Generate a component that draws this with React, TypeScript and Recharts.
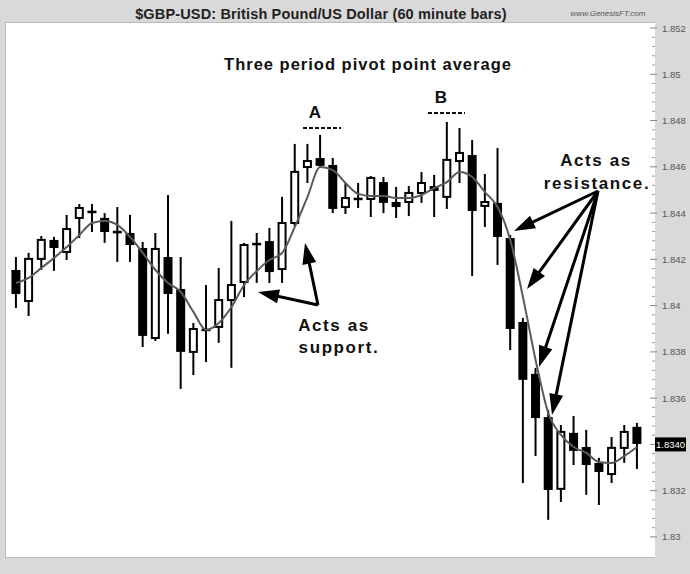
import React from 'react';
import { ComposedChart, Bar, Line, XAxis, YAxis } from 'recharts';

const categories = Array.from({ length: 50 }, (_, i) => `${i + 1}`);

const opens = [1.84154, 1.84020, 1.84202, 1.84284, 1.84232, 1.84379, 1.84407, 1.84379, 1.84320, 1.84314,
  1.84249, 1.83860, 1.84210, 1.84072, 1.83800, 1.83897, 1.83908, 1.84024, 1.84102, 1.84268,
  1.84279, 1.84158, 1.84357, 1.84599, 1.84638, 1.84608, 1.84426, 1.84463, 1.84461, 1.84534,
  1.84448, 1.84448, 1.84487, 1.84517, 1.84470, 1.84625, 1.84651, 1.84431, 1.84444, 1.84292,
  1.83929, 1.83705, 1.83518, 1.83208, 1.83450, 1.83389, 1.83320, 1.83272, 1.83385, 1.83476];

const highs = [1.84210, 1.84228, 1.84301, 1.84297, 1.84392, 1.84439, 1.84439, 1.84400, 1.84426, 1.84392,
  1.84275, 1.84314, 1.84478, 1.84210, 1.83925, 1.84089, 1.84163, 1.84366, 1.84271, 1.84314,
  1.84336, 1.84470, 1.84699, 1.84699, 1.84738, 1.84638, 1.84530, 1.84530, 1.84560, 1.84556,
  1.84513, 1.84517, 1.84578, 1.84565, 1.84794, 1.84768, 1.84716, 1.84569, 1.84681, 1.84305,
  1.83947, 1.83731, 1.83549, 1.83484, 1.83523, 1.83463, 1.83342, 1.83432, 1.83484, 1.83493];

const lows = [1.83990, 1.83955, 1.84154, 1.84150, 1.84197, 1.84292, 1.84318, 1.84271, 1.84189, 1.84189,
  1.83821, 1.83847, 1.83878, 1.83640, 1.83700, 1.83756, 1.83839, 1.83731, 1.84037, 1.84098,
  1.84098, 1.84098, 1.84344, 1.84530, 1.84595, 1.84400, 1.84396, 1.84422, 1.84383, 1.84400,
  1.84379, 1.84387, 1.84444, 1.84383, 1.84418, 1.84530, 1.84128, 1.84340, 1.84176, 1.83808,
  1.83233, 1.83350, 1.83074, 1.83151, 1.83311, 1.83182, 1.83138, 1.83233, 1.83320, 1.83294];

const closes = [1.84050, 1.84202, 1.84284, 1.84249, 1.84331, 1.84422, 1.84403, 1.84318, 1.84316, 1.84262,
  1.83869, 1.84245, 1.84050, 1.83800, 1.83899, 1.83893, 1.84024, 1.84089, 1.84262, 1.84264,
  1.84145, 1.84357, 1.84578, 1.84625, 1.84604, 1.84418, 1.84465, 1.84459, 1.84552, 1.84444,
  1.84426, 1.84487, 1.84530, 1.84496, 1.84630, 1.84660, 1.84409, 1.84448, 1.84297, 1.83899,
  1.83679, 1.83514, 1.83203, 1.83454, 1.83372, 1.83311, 1.83281, 1.83385, 1.83454, 1.83402];

const pivotAvg = [1.84098, 1.84120, 1.84163, 1.84206, 1.84253, 1.84305, 1.84357, 1.84366, 1.84349, 1.84297,
  1.84228, 1.84154, 1.84098, 1.84059, 1.83973, 1.83895, 1.83925, 1.83994, 1.84089, 1.84150,
  1.84197, 1.84228, 1.84340, 1.84470, 1.84599, 1.84586, 1.84530, 1.84483, 1.84474, 1.84474,
  1.84465, 1.84465, 1.84478, 1.84508, 1.84534, 1.84578, 1.84556, 1.84491, 1.84426, 1.84284,
  1.84037, 1.83765, 1.83536, 1.83441, 1.83389, 1.83363, 1.83324, 1.83320, 1.83350, 1.83389];

const majorTicks = [1.83, 1.832, 1.834, 1.836, 1.838, 1.84, 1.842, 1.844, 1.846, 1.848, 1.85, 1.852];
const majorLabels = ['1.83', '1.832', '1.834', '1.836', '1.838', '1.84', '1.842', '1.844', '1.846', '1.848', '1.85', '1.852'];
const lastPriceLabel = '1.8340';

const title = '$GBP-USD:  British Pound/US Dollar  (60 minute bars)';
const website = 'www.GenesisFT.com';

const data = categories.map((c, i) => ({
  name: c,
  range: [lows[i], highs[i]],
  open: opens[i],
  high: highs[i],
  low: lows[i],
  close: closes[i],
  avg: pivotAvg[i],
}));

const allTicks: number[] = [];
majorTicks.forEach((m, i) => {
  allTicks.push(m);
  if (i < majorTicks.length - 1) {
    for (let k = 1; k < 5; k++) allTicks.push(+(m + k * 0.0004).toFixed(5));
  }
});

const FONT = "'Liberation Sans', Arial, sans-serif";

const Candle = (props: any) => {
  const { x, y, width, height, payload } = props;
  if (!payload) return null;
  const { open, close, high, low } = payload;
  const top = Math.min(y, y + height);
  const h = Math.abs(height);
  const span = high - low;
  const py = (v: number) => (span === 0 ? top : top + ((high - v) / span) * h);
  const cx = x + width / 2;
  const bw = 9;
  const bull = close > open;
  let bTop = py(Math.max(open, close));
  let bBot = py(Math.min(open, close));
  if (bBot - bTop < 2.5) {
    const m = (bTop + bBot) / 2;
    bTop = m - 1.25;
    bBot = m + 1.25;
  }
  return (
    <g>
      <line x1={cx} x2={cx} y1={py(high)} y2={py(low)} stroke="#000" strokeWidth={2} />
      {bull ? (
        <rect x={cx - bw / 2 + 1} y={bTop} width={bw - 2} height={Math.max(bBot - bTop, 1)} fill="#fff" stroke="#000" strokeWidth={2} />
      ) : (
        <rect x={cx - bw / 2} y={bTop} width={bw} height={bBot - bTop} fill="#000" />
      )}
    </g>
  );
};

const RightTick = (props: any) => {
  const { x, y, payload } = props;
  const v = payload.value;
  const idx = majorTicks.findIndex((t) => Math.abs(t - v) < 1e-7);
  if (idx < 0) {
    return <line x1={x - 3} x2={x} y1={y} y2={y} stroke="#999" strokeWidth={1} />;
  }
  if (majorLabels[idx] === '1.834') {
    return (
      <g>
        <line x1={x - 5} x2={x + 2} y1={y} y2={y} stroke="#888" strokeWidth={1} />
        <rect x={x} y={y - 7} width={31} height={14} fill="#000" />
        <text x={x + 15.5} y={y + 3.5} textAnchor="middle" fill="#fff" fontSize={9.5} fontFamily={FONT}>{lastPriceLabel}</text>
      </g>
    );
  }
  return (
    <g>
      <line x1={x - 5} x2={x + 2} y1={y} y2={y} stroke="#888" strokeWidth={1} />
      <text x={x + 7} y={y + 3.5} textAnchor="start" fill="#555" fontSize={9.5} fontFamily={FONT}>{majorLabels[idx]}</text>
    </g>
  );
};

const Arrow = ({ x1, y1, x2, y2 }: { x1: number; y1: number; x2: number; y2: number }) => {
  const ang = Math.atan2(y2 - y1, x2 - x1);
  const L = 21;
  const W = 7;
  const c = Math.cos(ang);
  const s = Math.sin(ang);
  const bx = x2 - L * c;
  const by = y2 - L * s;
  const pts = `${x2},${y2} ${bx + W * s},${by - W * c} ${bx - W * s},${by + W * c}`;
  return (
    <g>
      <line x1={x1} y1={y1} x2={bx + 2 * c} y2={by + 2 * s} stroke="#000" strokeWidth={3} />
      <polygon points={pts} fill="#000" />
    </g>
  );
};

export default function App() {
  return (
    <div style={{ position: 'absolute', left: 0, top: 0, width: 690, height: 574, background: '#d9d9d9', overflow: 'hidden' }}>
      <div style={{ position: 'absolute', left: 5, top: 22, width: 650, height: 536, background: '#fff', boxSizing: 'border-box', borderLeft: '1px solid #bbb', borderTop: '1px solid #bbb', borderBottom: '1px solid #bbb' }} />
      <div style={{ position: 'absolute', left: 0, top: 0 }}>
        <ComposedChart width={690} height={574} data={data} margin={{ top: 22, right: 0, bottom: 16, left: 5 }}>
          <XAxis dataKey="name" hide padding={{ left: 4.66, right: 11.67 }} />
          <YAxis
            orientation="right"
            width={35}
            domain={[1.82909, 1.85226]}
            allowDataOverflow
            ticks={allTicks}
            interval={0}
            axisLine={false}
            tickLine={false}
            tickSize={0}
            tickMargin={0}
            tick={<RightTick />}
          />
          <Bar dataKey="range" shape={<Candle />} isAnimationActive={false} />
          <Line dataKey="avg" type="monotone" stroke="#5a5a5a" strokeWidth={2} dot={false} isAnimationActive={false} />
        </ComposedChart>
      </div>
      <svg width={690} height={574} style={{ position: 'absolute', left: 0, top: 0, pointerEvents: 'none' }}>
        <text x={321} y={19} textAnchor="middle" fontFamily={FONT} fontWeight="bold" fontSize={14.5} letterSpacing={0.15} fill="#222">{title}</text>
        <text x={608} y={16} textAnchor="middle" fontFamily={FONT} fontStyle="italic" fontSize={8} fill="#555">{website}</text>
        <text x={368} y={70} textAnchor="middle" fontFamily={FONT} fontWeight="bold" fontSize={16.5} letterSpacing={1} fill="#111">Three period pivot point average</text>
        <text x={315} y={118} textAnchor="middle" fontFamily={FONT} fontWeight="bold" fontSize={17} fill="#111">A</text>
        <line x1={303} x2={341} y1={128} y2={128} stroke="#111" strokeWidth={2} strokeDasharray="4 2" />
        <text x={441} y={103} textAnchor="middle" fontFamily={FONT} fontWeight="bold" fontSize={17} fill="#111">B</text>
        <line x1={428} x2={465} y1={113} y2={113} stroke="#111" strokeWidth={2} strokeDasharray="4 2" />
        <text x={596} y={166} textAnchor="middle" fontFamily={FONT} fontWeight="bold" fontSize={17} letterSpacing={1.6} fill="#111">Acts as</text>
        <text x={597} y={189} textAnchor="middle" fontFamily={FONT} fontWeight="bold" fontSize={17} letterSpacing={1.6} fill="#111">resistance.</text>
        <text x={334} y={331} textAnchor="middle" fontFamily={FONT} fontWeight="bold" fontSize={17} letterSpacing={1.6} fill="#111">Acts as</text>
        <text x={339} y={353} textAnchor="middle" fontFamily={FONT} fontWeight="bold" fontSize={17} letterSpacing={1.6} fill="#111">support.</text>
        <Arrow x1={318} y1={305} x2={258} y2={292} />
        <Arrow x1={318} y1={305} x2={305} y2={243} />
        <Arrow x1={598} y1={191} x2={514} y2={231} />
        <Arrow x1={598} y1={191} x2={527} y2={289} />
        <Arrow x1={598} y1={191} x2={539} y2={367} />
        <Arrow x1={598} y1={191} x2={552} y2={415} />
      </svg>
    </div>
  );
}
